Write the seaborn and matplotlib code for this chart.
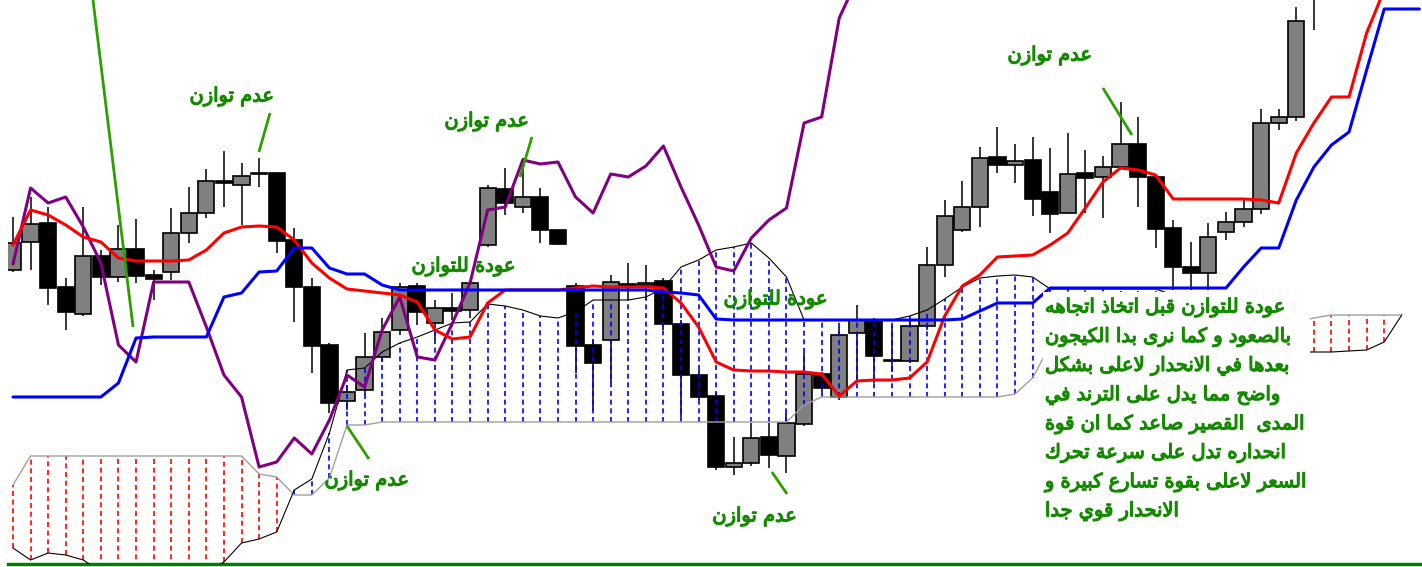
import numpy as np
import matplotlib
matplotlib.use('Agg')
import matplotlib.pyplot as plt
import matplotlib.patheffects as pe
import seaborn as sns
from matplotlib.patches import Rectangle

# candles (no price scale on the chart, values are points)
opens = [330, 358, 377, 313, 286, 344, 323, 351, 325, 328, 367, 387, 419, 415, 427, 427, 360, 313, 255, 199,
         210, 243, 270, 314, 277, 292, 290, 355, 411, 393, 403, 370, 314, 255, 260, 316, 315, 319, 276, 225,
         204, 133, 137, 163, 144, 176, 226, 203, 267, 279, 239, 239, 274, 335, 370, 393, 443, 435, 440, 408,
         387, 427, 423, 433, 456, 423, 372, 333, 327, 368, 378, 391, 477, 483, 605]
closes = [357, 376, 312, 288, 344, 323, 351, 324, 321, 367, 387, 419, 417, 424, 426, 359, 313, 254, 197, 208,
          243, 268, 313, 288, 292, 289, 317, 412, 397, 403, 370, 356, 254, 237, 318, 314, 317, 276, 225, 203,
          133, 137, 162, 145, 177, 226, 212, 265, 280, 244, 239, 274, 335, 384, 393, 442, 435, 439, 401, 386,
          426, 422, 433, 456, 423, 371, 333, 327, 363, 378, 391, 477, 483, 579, 630]
highs = [383, 403, 393, 322, 393, 350, 375, 381, 330, 392, 413, 431, 449, 437, 442, 428, 372, 322, 257, 215,
         267, 282, 317, 317, 300, 307, 320, 415, 432, 442, 412, 370, 317, 260, 325, 337, 335, 322, 280, 230,
         208, 163, 177, 177, 187, 247, 228, 273, 295, 282, 275, 280, 353, 400, 419, 453, 473, 456, 463, 452,
         467, 450, 444, 498, 483, 423, 380, 358, 377, 388, 400, 491, 491, 593, 640]
lows = [328, 330, 295, 270, 284, 315, 318, 317, 300, 320, 357, 382, 393, 375, 413, 347, 278, 227, 187, 190,
        205, 238, 265, 275, 260, 280, 282, 353, 385, 387, 357, 355, 227, 190, 217, 300, 300, 270, 183, 200,
        130, 125, 134, 132, 127, 174, 208, 200, 217, 217, 228, 237, 270, 323, 368, 373, 427, 417, 384, 367,
        387, 387, 382, 433, 393, 352, 310, 310, 310, 360, 373, 386, 470, 479, 570]

# ichimoku lines
tenkan = [355, 390, 385, 375, 363, 358, 342, 339, 339, 339, 340, 350, 367, 373, 374, 373, 360, 337, 322, 311,
          309, 307, 305, 298, 270, 261, 263, 297, 310, 310, 310, 310, 312, 314, 313, 313, 313, 312, 297, 273,
          238, 230, 229, 229, 228, 228, 226, 204, 219, 220, 220, 222, 238, 284, 314, 325, 343, 344, 345, 355,
          367, 392, 418, 432, 430, 425, 401, 401, 401, 401, 401, 400, 397, 447, 477, 503, 503, 567, 610, 615,
          615]
kijun = [203, 203, 203, 203, 203, 203, 217, 262, 263, 263, 263, 263, 303, 307, 328, 329, 352, 352, 332, 326,
         326, 315, 310, 310, 310, 310, 310, 310, 310, 310, 310, 310, 310, 310, 310, 310, 310, 308, 307, 305,
         281, 280, 280, 280, 280, 280, 280, 280, 280, 280, 280, 280, 280, 280, 281, 289, 297, 297, 297, 312,
         312, 312, 312, 312, 312, 312, 312, 312, 312, 312, 333, 352, 352, 400, 433, 455, 468, 530, 591, 591,
         591]
chikou = [336, 412, 397, 403, 373, 337, 255, 238, 318, 318, 318, 273, 225, 203, 133, 138, 162, 146, 180, 225,
          213, 270, 303, 243, 240, 277, 317, 390, 393, 440, 436, 438, 403, 387, 426, 423, 434, 454, 413, 375,
          333, 329, 362, 380, 392, 477, 483, 582, 620]
span_a = [52, 40, 47, 45, 40, 28, 28, 28, 28, 28, 28, 28, 38, 57, 61, 68, 110, 121, 167, 230,
          232, 248, 257, 263, 270, 277, 278, 296, 294, 290, 284, 282, 288, 300, 300, 300, 303, 312, 333, 340,
          350, 353, 357, 342, 323, 280, 280, 280, 280, 280, 280, 284, 290, 301, 313, 322, 324, 325, 323, 311,
          311, 311, 311, 311, 311, 311, 305, 295, 285, 275, 265, 255, 250, 248, 248, 248, 249, 250, 258, 285]
span_b = [115, 144, 144, 144, 144, 144, 144, 144, 144, 144, 144, 144, 144, 144, 126, 123, 105, 105, 122, 175,
          175, 178, 178, 178, 178, 178, 178, 178, 178, 178, 178, 178, 178, 178, 178, 178, 178, 178, 178, 178,
          178, 178, 178, 178, 178, 195, 203, 203, 203, 203, 203, 203, 203, 203, 203, 203, 203, 206, 222, 255,
          265, 270, 274, 278, 278, 278, 278, 278, 278, 278, 278, 278, 278, 278, 282, 285, 285, 285, 285, 285]

# annotations: (bar index, price, text)
lbl_imbalance = 'عدم توازن'
lbl_return = 'عودة للتوازن'
labels = [(12.46, 503, lbl_imbalance), (26.96, 478, lbl_imbalance), (58.99, 544, lbl_imbalance),
          (20.14, 119, lbl_imbalance), (42.2, 83, lbl_imbalance),
          (25.65, 333, lbl_return), (43.4, 300, lbl_return)]
note_lines = ['عودة للتوازن قبل اتخاذ اتجاهه',
              'بالصعود و كما نرى بدا الكيجون',
              'بعدها في الانحدار لاعلى بشكل',
              'واضح مما يدل على الترند في',
              'المدى  القصير صاعد كما ان قوة',
              'انحداره تدل على سرعة تحرك',
              'السعر لاعلى بقوة تسارع كبيرة و',
              'الانحدار قوي جدا']
pointers = [((4.55, 600), (6.83, 273)), ((14.62, 487), (13.99, 448)), ((29.52, 463), (28.84, 423)),
            ((62.0, 512), (63.65, 465)), ((19.0, 174), (20.25, 141)), ((43.17, 128), (44.03, 106))]

# minimal arabic shaping (matplotlib has no text shaping / bidi)
DUAL = {'ئ': 0xFE89, 'ب': 0xFE8F, 'ت': 0xFE95, 'ث': 0xFE99, 'ج': 0xFE9D, 'ح': 0xFEA1, 'خ': 0xFEA5,
        'س': 0xFEB1, 'ش': 0xFEB5, 'ص': 0xFEB9, 'ض': 0xFEBD, 'ط': 0xFEC1, 'ظ': 0xFEC5, 'ع': 0xFEC9,
        'غ': 0xFECD, 'ف': 0xFED1, 'ق': 0xFED5, 'ك': 0xFED9, 'ل': 0xFEDD, 'م': 0xFEE1, 'ن': 0xFEE5,
        'ه': 0xFEE9, 'ي': 0xFEF1}
RIGHT = {'آ': 0xFE81, 'أ': 0xFE83, 'ؤ': 0xFE85, 'إ': 0xFE87, 'ا': 0xFE8D, 'ة': 0xFE93, 'د': 0xFEA9,
         'ذ': 0xFEAB, 'ر': 0xFEAD, 'ز': 0xFEAF, 'و': 0xFEED, 'ى': 0xFEEF}
LAM_ALEF = {'ا': 0xFEFB, 'أ': 0xFEF7, 'إ': 0xFEF9, 'آ': 0xFEF5}


def shape(text):
    out = []
    i = 0
    while i < len(text):
        c = text[i]
        prev = text[i - 1] if i > 0 else ''
        nxt = text[i + 1] if i + 1 < len(text) else ''
        jp = prev in DUAL
        if c == 'ل' and nxt in LAM_ALEF:
            out.append(chr(LAM_ALEF[nxt] + (1 if jp else 0)))
            i += 2
            continue
        if c in DUAL:
            jn = nxt in DUAL or nxt in RIGHT
            off = 3 if (jp and jn) else 1 if jp else 2 if jn else 0
            out.append(chr(DUAL[c] + off))
        elif c in RIGHT:
            out.append(chr(RIGHT[c] + (1 if jp else 0)))
        else:
            out.append(c)
        i += 1
    return ''.join(reversed(out))


sns.set_theme(style='white')
plt.rcParams['font.family'] = ['DejaVu Sans']

fig = plt.figure(figsize=(14.22, 5.67), dpi=100)
ax = fig.add_axes([8 / 1422, 3 / 567, 1414 / 1422, 564 / 567])

o = np.array(opens)
c = np.array(closes)
idx = np.arange(len(opens))
bull = c >= o
ax.vlines(idx, lows, highs, color='black', lw=1.1, zorder=2)
ax.bar(idx, np.maximum(np.abs(c - o), 0.8), bottom=np.minimum(o, c), width=0.92,
       color=np.where(bull, '#808080', '#000000'), edgecolor='black', linewidth=1.2, zorder=3)

# cloud hatching
a = np.array(span_a)
b = np.array(span_b)
kidx = np.arange(len(span_a))
ax.vlines(kidx, np.minimum(a, b), np.maximum(a, b), colors=np.where(a > b, '#0000ff', '#ff0000'),
          linestyles=(0, (3, 2.2)), linewidth=1.2, zorder=4)

sns.lineplot(x=kidx, y=span_b, ax=ax, color='#a0a0a0', linewidth=1.0, zorder=5)
sns.lineplot(x=kidx, y=span_a, ax=ax, color='black', linewidth=0.8, zorder=5)
sns.lineplot(x=np.arange(len(chikou)), y=chikou, ax=ax, color='#800080', linewidth=2.2, zorder=6)
sns.lineplot(x=np.arange(len(tenkan)), y=tenkan, ax=ax, color='#ff0000', linewidth=2.2, zorder=6.1)
sns.lineplot(x=np.arange(len(kijun)), y=kijun, ax=ax, color='#0000ff', linewidth=2.2, zorder=6.2)

for (x0, y0), (x1, y1) in pointers:
    ax.plot([x0, x1], [y0, y1], color='#2f9f00', lw=2.0, zorder=7, solid_capstyle='butt')

txt_color = '#148a00'
heavy = [pe.withStroke(linewidth=0.9, foreground=txt_color)]
for x, y, s in labels:
    ax.text(x, y, shape(s), fontsize=14, color=txt_color, ha='center', va='center',
            zorder=10, path_effects=heavy)

# note block on white background
ax.add_patch(Rectangle((58.6, 70), 15.2, 238, facecolor='white', edgecolor='none', zorder=8))
for k, s in enumerate(note_lines):
    ax.text(58.7, 292 - 29.1 * k, shape(s), fontsize=14, color=txt_color, ha='left', va='center',
            zorder=10, path_effects=heavy)

ax.set_xlim(-0.284, 80.15)
ax.set_ylim(36, 600)
ax.set_xticks([])
ax.set_yticks([])
ax.set_xlabel('')
ax.set_ylabel('')
for side in ['top', 'left', 'right']:
    ax.spines[side].set_visible(False)
ax.spines['bottom'].set_color('#008000')
ax.spines['bottom'].set_linewidth(2.5)

fig.savefig('out.png', dpi=100)
